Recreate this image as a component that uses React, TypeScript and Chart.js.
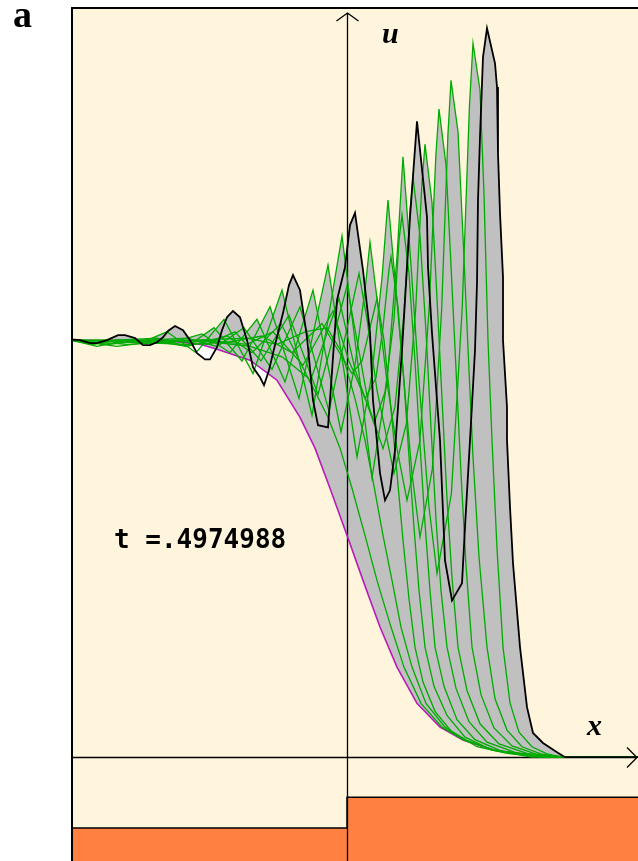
import { useEffect, useRef } from "react";
import { Chart, registerables } from "chart.js";

Chart.register(...registerables);

// ---------- data (x, u) ----------
const X_RANGE = [-2.76, 2.91];
const U_RANGE = [-0.249, 1.799];

const panelLabel = "a";
const timeLabel = "t =.4974988";
const uAxisLabel = "u";
const xAxisLabel = "x";

// bottom topography (step)
const bedX = [-2.76, 0, 0, 2.91];
const bedU = [-0.17, -0.17, -0.096, -0.096];

// initial profile (t = 0)
const initialProfile: [number, number][] = [
  [-2.76, 1.0], [-1.77, 0.998], [-1.47, 0.99], [-1.3, 0.978], [-0.97, 0.952], [-0.7, 0.904],
  [-0.47, 0.815], [-0.32, 0.741], [-0.17, 0.645], [0, 0.532], [0.16, 0.424], [0.33, 0.312],
  [0.5, 0.216], [0.7, 0.129], [0.93, 0.072], [1.16, 0.041], [1.46, 0.017], [1.83, 0.005],
  [2.23, 0], [2.91, 0],
];

// final profile (t = .4974988)
const finalProfile: [number, number][] = [
  [-2.76, 1.002], [-2.67, 1.0], [-2.57, 0.993], [-2.5, 0.993], [-2.4, 1.0], [-2.29, 1.012],
  [-2.22, 1.012], [-2.12, 1.005], [-2.04, 0.988], [-1.97, 0.988], [-1.9, 0.995], [-1.84, 1.007],
  [-1.79, 1.022], [-1.72, 1.034], [-1.64, 1.024], [-1.57, 1.0], [-1.5, 0.969], [-1.42, 0.954],
  [-1.37, 0.954], [-1.3, 0.983], [-1.25, 1.024], [-1.2, 1.055], [-1.14, 1.07], [-1.07, 1.055],
  [-1.0, 1.0], [-0.94, 0.935], [-0.87, 0.911], [-0.83, 0.892], [-0.78, 0.928], [-0.74, 0.969],
  [-0.64, 1.065], [-0.58, 1.132], [-0.54, 1.156], [-0.47, 1.12], [-0.4, 1.007], [-0.34, 0.856],
  [-0.29, 0.796], [-0.19, 0.791], [-0.17, 0.856], [-0.1, 1.096], [-0.02, 1.175], [0.03, 1.276],
  [0.08, 1.305], [0.16, 1.168], [0.23, 1.017], [0.26, 0.856], [0.33, 0.681], [0.38, 0.616],
  [0.43, 0.64], [0.48, 0.736], [0.55, 0.976], [0.6, 1.175], [0.63, 1.295], [0.7, 1.525],
  [0.8, 1.295], [0.81, 1.175], [0.85, 1.017], [0.9, 0.856], [0.93, 0.76], [0.98, 0.472],
  [1.05, 0.376], [1.15, 0.417], [1.18, 0.552], [1.23, 0.76], [1.28, 0.976], [1.3, 1.137],
  [1.31, 1.336], [1.33, 1.487], [1.36, 1.679], [1.4, 1.748], [1.48, 1.664], [1.5, 1.607],
  [1.51, 1.448], [1.53, 1.305], [1.56, 1.151], [1.56, 1.0], [1.6, 0.839], [1.6, 0.76],
  [1.63, 0.6], [1.66, 0.465], [1.73, 0.264], [1.8, 0.12], [1.86, 0.058], [1.96, 0.034],
  [2.1, 0.012], [2.18, 0], [2.91, 0],
];

// intermediate snapshots
const snapshot01: [number, number][] = [
  [-2.76, 1.0], [-1.43, 0.998], [-0.97, 0.985], [-0.65, 0.96], [-0.39, 0.91], [-0.19, 0.815],
  [-0.07, 0.741], [0.05, 0.645], [0.18, 0.532], [0.3, 0.424], [0.44, 0.312], [0.57, 0.216],
  [0.74, 0.129], [0.95, 0.072], [1.17, 0.041], [1.47, 0.017], [1.85, 0.005], [2.23, 0], [2.91, 0],
];
const snapshot02: [number, number][] = [
  [-2.76, 1.0], [-1.5, 1.0], [-1.0, 1.005], [-0.7, 0.99], [-0.42, 1.02], [-0.2, 1.03],
  [-0.05, 0.97], [0.08, 0.86], [0.18, 0.76], [0.27, 0.65], [0.36, 0.532], [0.45, 0.424],
  [0.54, 0.312], [0.65, 0.216], [0.79, 0.129], [0.98, 0.072], [1.19, 0.041], [1.47, 0.017],
  [1.85, 0.005], [2.2, 0], [2.91, 0],
];
const snapshot03: [number, number][] = [
  [-2.76, 1.0], [-1.6, 0.99], [-1.2, 0.995], [-0.85, 1.01], [-0.55, 0.97], [-0.25, 1.04], [0.05, 0.92],
  [0.15, 0.95], [0.24, 1.04], [0.3, 1.1], [0.37, 1.0], [0.43, 0.86], [0.5, 0.68], [0.56, 0.52],
  [0.62, 0.38], [0.68, 0.264], [0.76, 0.18], [0.88, 0.11], [1.05, 0.06], [1.3, 0.025],
  [1.6, 0.009], [2.0, 0], [2.91, 0],
];
const snapshot04: [number, number][] = [
  [-2.76, 1.0], [-2.2, 0.99], [-1.4, 1.0], [-1.0, 0.99], [-0.74, 1.02], [-0.44, 0.94], [-0.14, 1.07],
  [0.02, 0.95], [0.18, 0.86], [0.29, 0.91], [0.36, 1.03], [0.42, 1.17], [0.44, 1.2], [0.51, 1.08],
  [0.57, 0.9], [0.62, 0.72], [0.67, 0.55], [0.72, 0.4], [0.78, 0.264], [0.87, 0.17], [1.0, 0.1],
  [1.18, 0.048], [1.45, 0.017], [1.85, 0], [2.91, 0],
];
const snapshot05: [number, number][] = [
  [-2.76, 1.0], [-2.4, 0.99], [-2.0, 1.0], [-1.6, 0.985], [-1.2, 1.01], [-0.95, 0.97], [-0.66, 1.04], [-0.37, 0.9],
  [-0.08, 1.1], [0.08, 0.93], [0.27, 0.8], [0.38, 0.875], [0.47, 1.05], [0.52, 1.24], [0.55, 1.3],
  [0.62, 1.16], [0.68, 0.95], [0.73, 0.75], [0.78, 0.56], [0.83, 0.4], [0.88, 0.264], [0.97, 0.17],
  [1.1, 0.09], [1.28, 0.042], [1.55, 0.014], [1.95, 0], [2.91, 0],
];
const snapshot06: [number, number][] = [
  [-2.76, 1.0], [-2.3, 0.985], [-1.8, 1.0], [-1.4, 0.99], [-1.12, 1.02], [-0.86, 0.95], [-0.58, 1.06],
  [-0.29, 0.87], [0.0, 1.13], [0.1, 1.0], [0.22, 0.84], [0.36, 0.74], [0.48, 0.84], [0.57, 1.065],
  [0.63, 1.31], [0.66, 1.39], [0.73, 1.25], [0.79, 1.02], [0.84, 0.79], [0.89, 0.57], [0.94, 0.4],
  [1.0, 0.264], [1.09, 0.165], [1.22, 0.085], [1.4, 0.036], [1.7, 0.01], [2.05, 0], [2.91, 0],
];
const snapshot07: [number, number][] = [
  [-2.76, 1.0], [-2.4, 0.99], [-2.0, 1.0], [-1.6, 1.005], [-1.3, 0.985], [-1.03, 1.03], [-0.75, 0.93],
  [-0.47, 1.08], [-0.18, 0.83], [0.12, 1.16], [0.2, 1.05], [0.3, 0.88], [0.47, 0.68],
  [0.594, 0.8], [0.687, 1.075], [0.749, 1.375], [0.78, 1.47], [0.85, 1.33], [0.9, 1.1],
  [0.95, 0.86], [1.0, 0.62], [1.05, 0.43], [1.11, 0.264], [1.2, 0.16], [1.33, 0.08],
  [1.52, 0.032], [1.8, 0.009], [2.1, 0], [2.91, 0],
];
const snapshot08: [number, number][] = [
  [-2.76, 1.0], [-2.5, 0.985], [-2.2, 1.0], [-1.75, 0.995], [-1.45, 1.015], [-1.17, 0.97], [-0.9, 1.05],
  [-0.62, 0.9], [-0.34, 1.12], [-0.06, 0.78], [0.08, 0.94], [0.18, 1.12], [0.23, 1.235],
  [0.31, 1.08], [0.4, 0.9], [0.5, 0.74], [0.6, 0.616], [0.728, 0.757], [0.824, 1.085],
  [0.888, 1.441], [0.92, 1.554], [0.99, 1.42], [1.04, 1.18], [1.09, 0.93], [1.14, 0.68],
  [1.19, 0.46], [1.25, 0.264], [1.34, 0.15], [1.47, 0.07], [1.65, 0.027], [1.9, 0.007],
  [2.15, 0], [2.91, 0],
];
const snapshot09: [number, number][] = [
  [-2.76, 1.0], [-2.55, 0.99], [-2.3, 1.0], [-1.9, 1.005], [-1.6, 0.985], [-1.33, 1.03], [-1.05, 0.95],
  [-0.77, 1.08], [-0.48, 0.86], [-0.19, 1.18], [0.1, 0.72], [0.25, 0.92], [0.35, 1.15],
  [0.41, 1.336], [0.49, 1.12], [0.57, 0.9], [0.65, 0.68], [0.73, 0.528], [0.854, 0.692],
  [0.947, 1.076], [1.009, 1.492], [1.04, 1.623], [1.11, 1.5], [1.16, 1.25], [1.21, 0.98],
  [1.26, 0.72], [1.32, 0.48], [1.4, 0.264], [1.48, 0.14], [1.6, 0.065], [1.75, 0.025],
  [1.95, 0.007], [2.15, 0], [2.91, 0],
];
const snapshot10: [number, number][] = [
  [-2.76, 1.0], [-2.55, 0.99], [-2.3, 1.0], [-2.05, 0.995], [-1.8, 1.02], [-1.51, 0.97], [-1.23, 1.05],
  [-0.94, 0.92], [-0.65, 1.12], [-0.35, 0.82], [-0.05, 1.25], [0.25, 0.67], [0.4, 0.9],
  [0.5, 1.2], [0.56, 1.44], [0.64, 1.18], [0.72, 0.9], [0.82, 0.6], [0.9, 0.441],
  [1.044, 0.632], [1.152, 1.077], [1.224, 1.56], [1.26, 1.712], [1.33, 1.6], [1.37, 1.35],
  [1.41, 1.0], [1.45, 0.76], [1.5, 0.5], [1.56, 0.264], [1.63, 0.13], [1.72, 0.06],
  [1.85, 0.025], [2.0, 0.008], [2.15, 0], [2.91, 0],
];

const snapshots = [
  snapshot01, snapshot02, snapshot03, snapshot04, snapshot05,
  snapshot06, snapshot07, snapshot08, snapshot09, snapshot10,
];

// label anchors (data coordinates)
const uLabelAt = [0.35, 1.712];
const xLabelAt = [2.4, 0.053];
const timeLabelAt = [-2.33, 0.501];

const CREAM = "#fff5dc";
const GREEN = "#00aa00";
const MAGENTA = "#b81cb8";
const GRAY = "#c0c0c0";
const ORANGE = "#ff8040";

const pts = (p: [number, number][]) => p.map(([x, y]) => ({ x, y }));

const decoPlugin = {
  id: "deco",
  beforeDraw(chart: any) {
    const { ctx, chartArea: a } = chart;
    ctx.save();
    ctx.fillStyle = "#ffffff";
    ctx.fillRect(0, 0, chart.width, chart.height);
    ctx.fillStyle = CREAM;
    ctx.fillRect(a.left, a.top, a.right - a.left, a.bottom - a.top);
    ctx.restore();
  },
  beforeDatasetsDraw(chart: any) {
    const { ctx, chartArea: a, scales } = chart;
    const x0 = Math.round(scales.x.getPixelForValue(0)) + 0.5;
    const y0 = Math.round(scales.y.getPixelForValue(0)) + 0.5;
    ctx.save();
    ctx.strokeStyle = "#000";
    ctx.lineWidth = 1.3;
    ctx.beginPath();
    ctx.moveTo(x0, a.bottom);
    ctx.lineTo(x0, a.top + 6);
    ctx.moveTo(x0 - 11, a.top + 14);
    ctx.lineTo(x0, a.top + 6);
    ctx.lineTo(x0 + 11, a.top + 14);
    ctx.moveTo(a.left, y0);
    ctx.lineTo(a.right - 1, y0);
    ctx.moveTo(a.right - 11, y0 - 10);
    ctx.lineTo(a.right - 1, y0);
    ctx.lineTo(a.right - 11, y0 + 10);
    ctx.stroke();
    ctx.restore();
  },
  afterDraw(chart: any) {
    const { ctx, chartArea: a, scales } = chart;
    ctx.save();
    ctx.strokeStyle = "#000";
    ctx.lineWidth = 2;
    ctx.beginPath();
    ctx.moveTo(a.left + 1, a.bottom);
    ctx.lineTo(a.left + 1, a.top + 1);
    ctx.lineTo(a.right, a.top + 1);
    ctx.stroke();

    ctx.fillStyle = "#000";
    ctx.textBaseline = "alphabetic";
    ctx.textAlign = "left";
    ctx.font = 'bold 38px "Liberation Serif", serif';
    ctx.fillText(panelLabel, 13, 27);

    ctx.font = 'italic bold 30px "Liberation Serif", serif';
    ctx.fillText(uAxisLabel, scales.x.getPixelForValue(uLabelAt[0]), scales.y.getPixelForValue(uLabelAt[1]));
    ctx.fillText(xAxisLabel, scales.x.getPixelForValue(xLabelAt[0]), scales.y.getPixelForValue(xLabelAt[1]));

    ctx.font = 'bold 26px "DejaVu Sans Mono", monospace';
    ctx.fillText(timeLabel, scales.x.getPixelForValue(timeLabelAt[0]), scales.y.getPixelForValue(timeLabelAt[1]));
    ctx.restore();
  },
};

export default function App() {
  const ref = useRef<HTMLCanvasElement | null>(null);

  useEffect(() => {
    if (!ref.current) return;
    const datasets: any[] = [];
    // 0: final profile (top), filled against initial
    datasets.push({
      label: "final",
      data: pts(finalProfile),
      borderColor: "#000",
      borderWidth: 1.8,
      pointRadius: 0,
      tension: 0,
      order: 0,
      fill: { target: 1, above: GRAY, below: "#ffffff" },
    });
    // 1: initial profile
    datasets.push({
      label: "initial",
      data: pts(initialProfile),
      borderColor: MAGENTA,
      borderWidth: 1.6,
      pointRadius: 0,
      tension: 0,
      order: 3,
      fill: false,
    });
    snapshots.forEach((s, i) => {
      datasets.push({
        label: "snap" + (i + 1),
        data: pts(s),
        borderColor: GREEN,
        borderWidth: 1.3,
        pointRadius: 0,
        tension: 0,
        order: 2,
        fill: { target: 1, above: GRAY, below: "rgba(0,0,0,0)" },
      });
    });
    datasets.push({
      label: "bed",
      data: bedX.map((x, i) => ({ x, y: bedU[i] })),
      borderColor: "#000",
      borderWidth: 1.5,
      pointRadius: 0,
      tension: 0,
      order: 4,
      fill: "start",
      backgroundColor: ORANGE,
    });

    const chart = new Chart(ref.current, {
      type: "line",
      data: { datasets },
      options: {
        animation: false,
        responsive: false,
        devicePixelRatio: 1,
        events: [],
        layout: { padding: { left: 71, top: 7, right: 0, bottom: 0 } },
        scales: {
          x: { type: "linear", min: X_RANGE[0], max: X_RANGE[1], display: false },
          y: { type: "linear", min: U_RANGE[0], max: U_RANGE[1], display: false },
        },
        plugins: {
          legend: { display: false },
          tooltip: { enabled: false },
          filler: { drawTime: "beforeDatasetsDraw" },
        },
      } as any,
      plugins: [decoPlugin],
    });
    return () => chart.destroy();
  }, []);

  return (
    <div style={{ position: "absolute", left: 0, top: 0, width: 638, height: 861 }}>
      <canvas ref={ref} width={638} height={861} style={{ display: "block" }} />
    </div>
  );
}
